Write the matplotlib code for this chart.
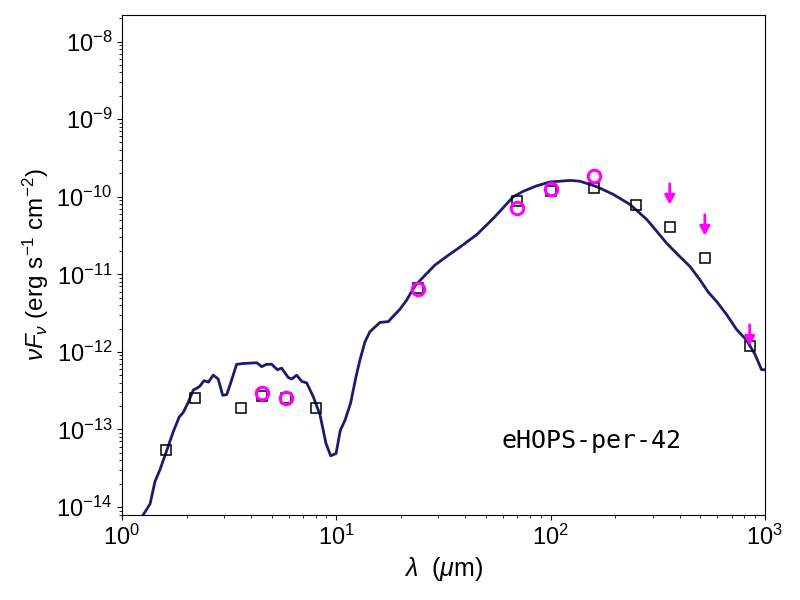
import numpy as np
import matplotlib
matplotlib.use("Agg")
import matplotlib.pyplot as plt

plt.rcParams['font.family'] = ['Liberation Sans', 'DejaVu Sans']
plt.rcParams['mathtext.fontset'] = 'custom'
plt.rcParams['mathtext.rm'] = 'Liberation Sans'
plt.rcParams['mathtext.it'] = 'Liberation Sans:italic'
plt.rcParams['mathtext.bf'] = 'Liberation Sans:bold'

# model SED (log10 lambda [um], log10 nuFnu [erg/s/cm2])
model_loglam = [0.08, 0.099, 0.131, 0.154, 0.177, 0.209, 0.239, 0.267, 0.286, 0.309,
                0.333, 0.349, 0.364, 0.383, 0.403, 0.426, 0.449, 0.470, 0.489, 0.512,
                0.535, 0.566, 0.629, 0.652, 0.675, 0.699, 0.725, 0.745, 0.776, 0.792,
                0.815, 0.839, 0.862, 0.893, 0.924, 0.952, 0.974, 0.999, 1.019, 1.041,
                1.067, 1.092, 1.111, 1.134, 1.157, 1.204, 1.243, 1.266, 1.297, 1.329,
                1.367, 1.422, 1.461, 1.515, 1.577, 1.655, 1.733, 1.826, 1.873, 1.935,
                1.997, 2.091, 2.137, 2.215, 2.293, 2.371, 2.448, 2.491, 2.542, 2.588,
                2.651, 2.697, 2.736, 2.775, 2.822, 2.868, 2.915, 2.954, 2.985, 3.01]
model_logF = [-14.40, -14.10, -13.96, -13.67, -13.52, -13.27, -13.03, -12.84, -12.78, -12.65,
              -12.49, -12.47, -12.44, -12.37, -12.39, -12.30, -12.35, -12.56, -12.55, -12.36,
              -12.16, -12.15, -12.14, -12.19, -12.16, -12.16, -12.23, -12.21, -12.33, -12.35,
              -12.30, -12.38, -12.40, -12.58, -12.81, -13.18, -13.34, -13.31, -13.01, -12.88,
              -12.66, -12.32, -12.10, -11.87, -11.74, -11.62, -11.61, -11.54, -11.45, -11.33,
              -11.15, -10.99, -10.88, -10.77, -10.65, -10.49, -10.28, -10.00, -9.93, -9.86,
              -9.81, -9.79, -9.80, -9.87, -9.97, -10.10, -10.29, -10.43, -10.60, -10.73,
              -10.90, -11.07, -11.23, -11.35, -11.52, -11.71, -11.85, -12.03, -12.23, -12.23]

# model photometry (squares)
mod_lam = [1.6, 2.2, 3.6, 4.5, 5.8, 8.0, 24, 70, 100, 160, 250, 360, 525, 850]
mod_flux = [5.4e-14, 2.53e-13, 1.89e-13, 2.7e-13, 2.57e-13, 1.88e-13, 6.64e-12,
            8.87e-11, 1.19e-10, 1.31e-10, 7.81e-11, 4.06e-11, 1.63e-11, 1.19e-12]

# observed photometry (circles)
obs_lam = [4.5, 5.8, 24, 70, 100, 160]
obs_flux = [2.96e-13, 2.53e-13, 6.44e-12, 7.14e-11, 1.27e-10, 1.87e-10]

# upper limits (arrows)
ul_lam = [360, 525, 850]
ul_flux = [1.47e-10, 5.86e-11, 2.23e-12]

source_name = "eHOPS-per-42"

fig = plt.figure(figsize=(8, 6), dpi=100)
ax = fig.add_axes([0.1525, 0.1417, 0.8035, 0.8333])

lam = 10 ** np.array(model_loglam)
flux = 10 ** np.array(model_logF)
ax.plot(lam, flux, color='#1c1c6e', lw=2.0, zorder=2)

ax.plot(mod_lam, mod_flux, 's', ms=7, mfc='none', mec='black', mew=1.1, zorder=3)
ax.plot(obs_lam, obs_flux, 'o', ms=9, mfc='none', mec='magenta', mew=2.2, zorder=4)

for l, f in zip(ul_lam, ul_flux):
    ax.annotate('', xy=(l, f * 10 ** -0.27), xytext=(l, f),
                arrowprops=dict(arrowstyle='-|>,head_width=0.3,head_length=0.55',
                                color='magenta', lw=2, shrinkA=0, shrinkB=0),
                zorder=5)

ax.set_xscale('log')
ax.set_yscale('log')
ax.set_xlim(1, 1000)
ax.set_ylim(7.9e-15, 2.2e-8)

ax.tick_params(labelsize=17)
ax.set_xlabel(r'$\lambda$  ($\mu$m)', fontsize=18)
ax.set_ylabel(r'$\nu F_\nu$ (erg s$^{-1}$ cm$^{-2}$)', fontsize=17.5)

ax.text(0.731, 0.147, source_name, transform=ax.transAxes, family='DejaVu Sans Mono',
        fontsize=18, ha='center', va='center')

fig.savefig('out.png', dpi=100)
